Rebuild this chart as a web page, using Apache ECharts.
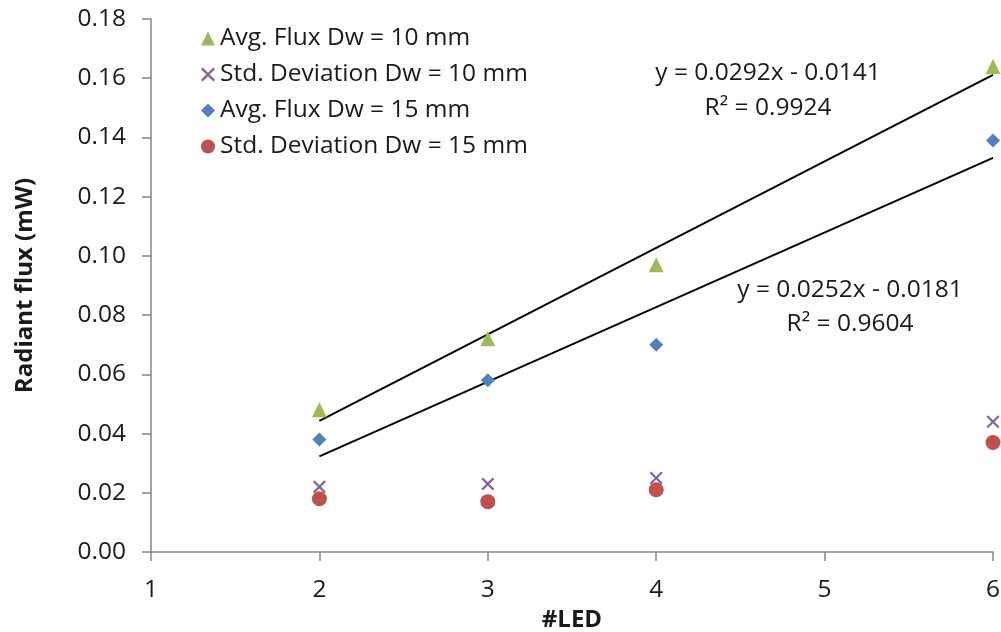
<!DOCTYPE html>
<html><head><meta charset="utf-8">
<script src="https://cdn.jsdelivr.net/npm/echarts@6/dist/echarts.min.js"></script>
<style>html,body{margin:0;padding:0;background:#fff}#c{width:1001px;height:632px}</style>
</head><body><div id="c"></div>
<script>
const leds = [2, 3, 4, 6];
const avgFlux10 = [0.048, 0.072, 0.097, 0.164];
const stdDev10 = [0.022, 0.023, 0.025, 0.044];
const avgFlux15 = [0.038, 0.058, 0.070, 0.139];
const stdDev15 = [0.018, 0.017, 0.021, 0.037];
const trendX = [2, 6];
const trend10 = [0.0443, 0.1611];
const trend15 = [0.0323, 0.1331];
const yTicks = [0, 0.02, 0.04, 0.06, 0.08, 0.10, 0.12, 0.14, 0.16, 0.18];
const names = ['Avg. Flux Dw = 10 mm', 'Std. Deviation Dw = 10 mm', 'Avg. Flux Dw = 15 mm', 'Std. Deviation Dw = 15 mm'];
const eq10 = ['y = 0.0292x - 0.0141', 'R² = 0.9924'];
const eq15 = ['y = 0.0252x - 0.0181', 'R² = 0.9604'];

const pair = (xs, ys) => xs.map((x, i) => [x, ys[i]]);
const xPath = 'path://M0,1.2L1.2,0L5,3.8L8.8,0L10,1.2L6.2,5L10,8.8L8.8,10L5,6.2L1.2,10L0,8.8L3.8,5Z';
const font = '"Open Sans", "Liberation Sans", sans-serif';
const fs = 24.5;
const chart = echarts.init(document.getElementById('c'));
chart.setOption({
  animation: false,
  textStyle: { fontFamily: font },
  grid: { left: 151, right: 8, top: 19, bottom: 80, outerBoundsMode: 'none', containLabel: false },
  legend: {
    orient: 'vertical', left: 196, top: 21, itemGap: 11, itemWidth: 14, itemHeight: 14,
    textStyle: { fontSize: fs, color: '#1a1a1a', fontFamily: font },
    data: [
      { name: names[0], icon: 'triangle' },
      { name: names[1], icon: xPath },
      { name: names[2], icon: 'diamond' },
      { name: names[3], icon: 'circle' }
    ]
  },
  xAxis: {
    type: 'value', min: 1, max: 6, interval: 1,
    name: '#LED', nameLocation: 'middle', nameGap: 54,
    nameTextStyle: { fontSize: 24, fontWeight: 'bold', color: '#1a1a1a' },
    axisLine: { lineStyle: { color: '#868686', width: 1.5 } },
    axisTick: { show: true, length: 9, lineStyle: { color: '#868686', width: 1.5 } },
    axisLabel: { fontSize: fs, color: '#1a1a1a', margin: 26 },
    splitLine: { show: false }
  },
  yAxis: {
    type: 'value', min: 0, max: 0.18, interval: 0.02,
    name: 'Radiant flux (mW)', nameLocation: 'middle', nameGap: 114,
    nameTextStyle: { fontSize: 24, fontWeight: 'bold', color: '#1a1a1a' },
    axisLine: { show: true, lineStyle: { color: '#868686', width: 1.5 } },
    axisTick: { show: true, length: 9, lineStyle: { color: '#868686', width: 1.5 } },
    axisLabel: { fontSize: fs, color: '#1a1a1a', margin: 25,
      formatter: v => { const t = yTicks.find(k => Math.abs(k - v) < 1e-9); return (t !== undefined ? t : v).toFixed(2); } },
    splitLine: { show: false }
  },
  series: [
    { name: 'trend10', type: 'line', data: pair(trendX, trend10), symbol: 'none', lineStyle: { color: '#000', width: 2 }, silent: true, z: 1 },
    { name: 'trend15', type: 'line', data: pair(trendX, trend15), symbol: 'none', lineStyle: { color: '#000', width: 2 }, silent: true, z: 1 },
    { name: names[0], type: 'scatter', data: pair(leds, avgFlux10), symbol: 'triangle', symbolSize: 15, itemStyle: { color: '#9BBB59', opacity: 1 }, z: 3 },
    { name: names[1], type: 'scatter', data: pair(leds, stdDev10), symbol: xPath, symbolSize: 13, itemStyle: { color: '#8064A2', opacity: 1 }, z: 3 },
    { name: names[2], type: 'scatter', data: pair(leds, avgFlux15), symbol: 'diamond', symbolSize: 14, itemStyle: { color: '#4F81BD', opacity: 1 }, z: 3 },
    { name: names[3], type: 'scatter', data: pair(leds, stdDev15), symbol: 'circle', symbolSize: 15, itemStyle: { color: '#C0504D', opacity: 1 }, z: 2 }
  ],
  graphic: [
    { type: 'text', x: 768, y: 73, style: { text: eq10[0], font: fs + 'px ' + font, fill: '#1a1a1a', align: 'center', verticalAlign: 'middle' } },
    { type: 'text', x: 768, y: 108, style: { text: eq10[1], font: fs + 'px ' + font, fill: '#1a1a1a', align: 'center', verticalAlign: 'middle' } },
    { type: 'text', x: 850, y: 290, style: { text: eq15[0], font: fs + 'px ' + font, fill: '#1a1a1a', align: 'center', verticalAlign: 'middle' } },
    { type: 'text', x: 850, y: 324, style: { text: eq15[1], font: fs + 'px ' + font, fill: '#1a1a1a', align: 'center', verticalAlign: 'middle' } }
  ]
});
</script></body></html>
